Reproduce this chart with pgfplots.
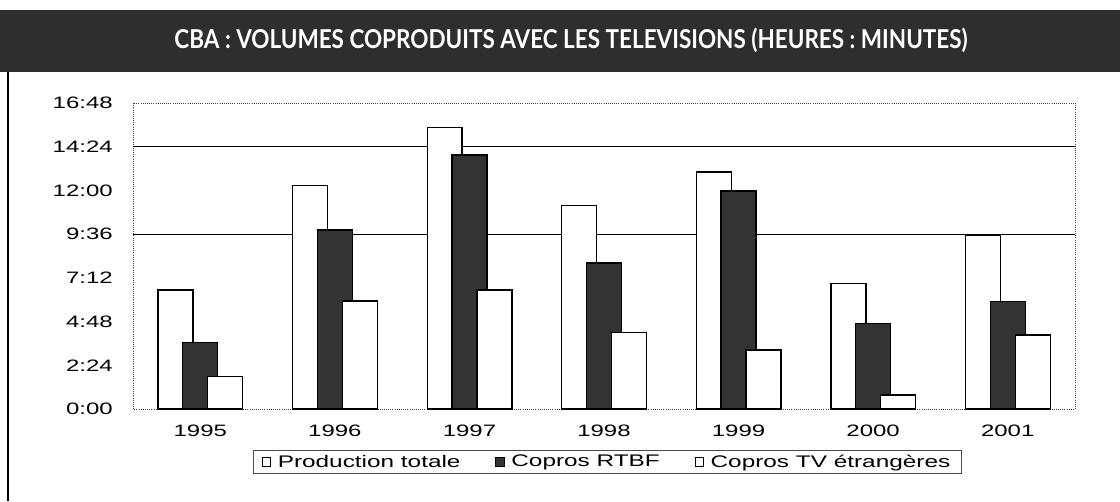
\documentclass[border=0pt]{standalone}
\usepackage{pgfplots}
\pgfplotsset{compat=1.18}
\usepackage{fontspec}
\setmainfont{Liberation Sans}
\newfontfamily\titlefont{Lato}
\newcommand\sx[1]{\scalebox{1.45}[1]{#1}}
\begin{document}
\begin{tikzpicture}
\path[use as bounding box] (0,0) rectangle (840pt,375.75pt);
\fill[black!82] (0pt,321.75pt) rectangle (840pt,368.25pt);
\node[text=white, font=\titlefont\bfseries\fontsize{19.5}{21}\selectfont, inner sep=0pt] at (428.25pt,345.75pt) {\resizebox{594.75pt}{\height}{CBA : VOLUMES COPRODUITS AVEC LES TELEVISIONS (HEURES : MINUTES)}};
\draw[line width=1.2pt] (6pt,0pt) -- (6pt,321.75pt);
\begin{axis}[
  at={(99.75pt,69pt)}, anchor=south west,
  scale only axis, width=706.5pt, height=229.5pt,
  xmin=-0.5, xmax=6.5, ymin=0, ymax=16.8,
  axis line style={black!75, densely dotted, line width=0.6pt},
  xtick={0,1,2,3,4,5,6},
  xticklabels={\sx{1995},\sx{1996},\sx{1997},\sx{1998},\sx{1999},\sx{2000},\sx{2001}},
  ytick={0,2.4,4.8,7.2,9.6,12,14.4,16.8},
  yticklabels={\sx{0:00},\sx{2:24},\sx{4:48},\sx{7:12},\sx{9:36},\sx{12:00},\sx{14:24},\sx{16:48}},
  major tick length=0pt,
  tick label style={font=\fontsize{12.4}{14}\selectfont},
  yticklabel style={inner sep=0pt, xshift=-15pt},
  xticklabel style={inner sep=0pt, yshift=-12pt},
  extra y ticks={9.6,14.4},
  extra y tick labels={},
  extra y tick style={grid=major, major grid style={black, line width=0.7pt}},
  ybar,
  bar width=0.26,
  legend style={at={(0.5035,-0.173)}, anchor=center, legend columns=3,
    draw=black!70, line width=0.6pt,
    font=\fontsize{12.6}{14}\selectfont, inner xsep=6pt, inner ysep=1pt,
    /tikz/every even column/.append style={column sep=24pt}},
  legend image code/.code={\draw[#1, line width=0.6pt] (0pt,-3.2pt) rectangle (6.5pt,3.2pt);},
]
\addplot[draw=black, fill=white, line width=1pt, bar shift=-0.184] coordinates {
 (0,6.53) (1,12.28) (2,15.47) (3,11.17) (4,13.01) (5,6.90) (6,9.55)};
\addlegendentry{\hspace{3pt}\sx{Production totale}}
\addplot[draw=black, fill=black!80, line width=1pt, bar shift=0] coordinates {
 (0,3.64) (1,9.83) (2,13.95) (3,8.02) (4,11.97) (5,4.70) (6,5.89)};
\addlegendentry{\hspace{3pt}\sx{Copros RTBF}}
\addplot[draw=black, fill=white, line width=1pt, bar shift=0.186] coordinates {
 (0,1.77) (1,5.93) (2,6.53) (3,4.21) (4,3.24) (5,0.77) (6,4.06)};
\addlegendentry{\hspace{3pt}\sx{Copros TV étrangères}}
\end{axis}
\end{tikzpicture}
\end{document}
